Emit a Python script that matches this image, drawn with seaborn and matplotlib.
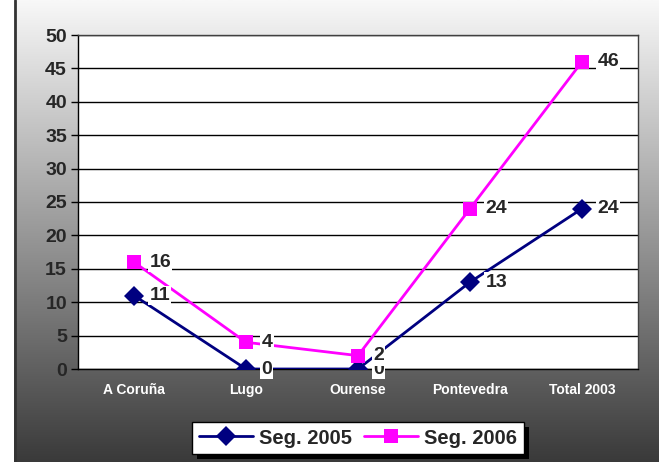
import numpy as np
import pandas as pd
import matplotlib
matplotlib.use('Agg')
import matplotlib.pyplot as plt
from matplotlib.colors import LinearSegmentedColormap
from matplotlib.patches import Rectangle
import seaborn as sns

# данные графика
categorias = ['A Coruña', 'Lugo', 'Ourense', 'Pontevedra', 'Total 2003']
seg_2005 = [11, 0, 0, 13, 24]
seg_2006 = [16, 4, 2, 24, 46]
series = ['Seg. 2005', 'Seg. 2006']

sns.set_style('white')
plt.rcParams['font.family'] = ['Liberation Sans', 'DejaVu Sans']

df = pd.DataFrame({
    'x': list(range(len(categorias))) * 2,
    'valor': seg_2005 + seg_2006,
    'serie': [series[0]] * len(categorias) + [series[1]] * len(categorias),
})

fig = plt.figure(figsize=(6.59, 4.62), dpi=100)
fig.patch.set_facecolor('white')

# фон с градиентом
bg = fig.add_axes([14 / 659, 0, 1 - 14 / 659, 1], zorder=-5)
grad = np.linspace(0, 1, 256).reshape(-1, 1)
cmap = LinearSegmentedColormap.from_list('g', ['#f8f8f8', '#3a3a3a'])
bg.imshow(grad, aspect='auto', cmap=cmap, extent=[0, 1, 0, 1], origin='upper')
bg.set_xlim(0, 1)
bg.set_ylim(0, 1)
bg.axis('off')
bg.axvline(0.002, color='#333333', lw=2)

ax = fig.add_axes([78 / 659, 1 - 369 / 462, 560 / 659, 334 / 462])
ax.set_facecolor('white')

palette = {'Seg. 2005': '#000080', 'Seg. 2006': '#ff00ff'}
markers = {'Seg. 2005': 'D', 'Seg. 2006': 's'}
sns.lineplot(data=df, x='x', y='valor', hue='serie', style='serie',
             palette=palette, markers=markers, dashes=False,
             markersize=10.5, linewidth=2, markeredgewidth=0, ax=ax, zorder=3,
             legend=True)
handles, labels = ax.get_legend_handles_labels()
ax.get_legend().remove()

ax.set_xlim(-0.5, len(categorias) - 0.5)
ax.set_ylim(0, 50)
ax.set_yticks(range(0, 51, 5))
ax.set_xticks(range(len(categorias)))
ax.set_xticklabels(categorias, color='white', fontsize=10, fontweight='bold')
ax.tick_params(axis='y', labelsize=14, length=5, width=1, color='black', left=True, pad=3)
for t in ax.get_yticklabels():
    t.set_fontweight('bold')
ax.tick_params(axis='x', length=0, pad=10)
ax.yaxis.grid(True, color='black', lw=1)
ax.set_axisbelow(True)
for s in ax.spines.values():
    s.set_color('#404040')
    s.set_linewidth(1)
ax.spines['left'].set_color('black')
ax.spines['bottom'].set_color('black')
ax.set_xlabel('')
ax.set_ylabel('')

# подписи значений
for vals in [seg_2005, seg_2006]:
    for i, v in enumerate(vals):
        ax.annotate(str(v), (i, v), xytext=(11, 0), textcoords='offset points',
                    ha='left', va='center', fontsize=14, fontweight='bold',
                    bbox=dict(facecolor='white', edgecolor='none', pad=1),
                    zorder=5)

# легенда с чёрной тенью
leg = fig.legend(handles, labels, loc='center', bbox_to_anchor=(358 / 659, 1 - 438 / 462),
                 ncol=2, frameon=True, fancybox=False, edgecolor='black',
                 framealpha=1, prop={'size': 14.5, 'weight': 'bold'},
                 handlelength=2.7, columnspacing=0.6, handletextpad=0.3,
                 borderpad=0.3, borderaxespad=0)
leg.get_frame().set_linewidth(1)

fig.canvas.draw()
bb = leg.get_window_extent()
fig.patches.append(Rectangle((bb.x0 + 5, bb.y0 - 5), bb.width, bb.height,
                             facecolor='black', edgecolor='none',
                             transform=None, figure=fig, zorder=2))

fig.savefig('out.png', dpi=100)
